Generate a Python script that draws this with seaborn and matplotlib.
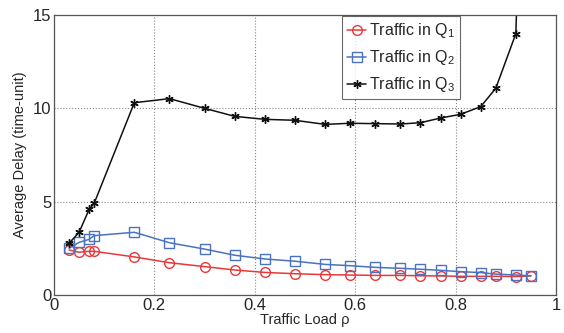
import matplotlib
matplotlib.use("Agg")
import matplotlib.pyplot as plt
import seaborn as sns
import pandas as pd
import numpy as np

load = [0.03, 0.05, 0.07, 0.08, 0.16, 0.23, 0.30, 0.36, 0.42, 0.48, 0.54,
        0.59, 0.64, 0.69, 0.73, 0.77, 0.81, 0.85, 0.88, 0.92, 0.95]
q1 = [2.41, 2.29, 2.34, 2.34, 2.04, 1.73, 1.52, 1.34, 1.21, 1.14, 1.09,
      1.07, 1.05, 1.05, 1.03, 1.02, 1.00, 1.00, 1.00, 0.99, 1.02]
q2 = [2.50, 2.82, 2.98, 3.18, 3.36, 2.80, 2.46, 2.13, 1.93, 1.81, 1.64,
      1.57, 1.48, 1.43, 1.38, 1.32, 1.25, 1.20, 1.12, 1.07, 1.03]
q3 = [2.77, 3.36, 4.59, 4.91, 10.30, 10.52, 10.00, 9.57, 9.41, 9.36, 9.14,
      9.20, 9.18, 9.16, 9.23, 9.48, 9.68, 10.09, 11.07, 14.00, 40.0]
labels = ["Traffic in Q$_1$", "Traffic in Q$_2$", "Traffic in Q$_3$"]

sns.set_style("white")
plt.rcParams['font.family'] = ['Liberation Sans', 'DejaVu Sans']
plt.rcParams['mathtext.fontset'] = 'custom'
plt.rcParams['mathtext.rm'] = 'Liberation Sans'
plt.rcParams['mathtext.it'] = 'Liberation Sans'

fig = plt.figure(figsize=(5.64, 3.33), dpi=100)
ax = fig.add_axes([54/564, 38/333, 502/564, 280/333])

styles = [
    dict(color="#e8383a", marker="o", ms=7, mfc="none", mec="#e8383a"),
    dict(color="#4a72c0", marker="s", ms=6.5, mfc="none", mec="#4a72c0"),
    dict(color="#111111", marker=(6, 2, 0), ms=6, mfc="#111111", mec="#111111"),
]
for ys, lab, st in zip([q1, q2, q3], labels, styles):
    df = pd.DataFrame({"x": load, "y": ys})
    sns.lineplot(data=df, x="x", y="y", ax=ax, label=lab, color=st["color"],
                 marker=st["marker"], markersize=st["ms"],
                 markerfacecolor=st["mfc"], markeredgecolor=st["mec"],
                 markeredgewidth=1.0, linewidth=1.1)

ax.set_xlim(0, 1)
ax.set_ylim(0, 15)
ax.set_xticks([0, 0.2, 0.4, 0.6, 0.8, 1])
ax.set_xticklabels(["0", "0.2", "0.4", "0.6", "0.8", "1"])
ax.set_yticks([0, 5, 10, 15])
ax.grid(True, linestyle=":", color="#888888", linewidth=0.8)
ax.tick_params(axis="both", labelsize=12, length=3, direction="in", pad=2)
for s in ax.spines.values():
    s.set_color("#555555")
    s.set_linewidth(0.9)
ax.set_xlabel("Traffic Load ρ", fontsize=10.5, labelpad=0)
ax.set_ylabel("Average Delay (time-unit)", fontsize=10.5, labelpad=4)

leg = ax.legend(loc="upper left", bbox_to_anchor=(0.574, 0.995), fontsize=11.5,
                frameon=True, fancybox=False, edgecolor="#444444",
                handlelength=1.2, handletextpad=0.2, borderpad=0.3,
                labelspacing=0.5, borderaxespad=0)
leg.get_frame().set_linewidth(0.8)

fig.savefig("out.png", dpi=100)
